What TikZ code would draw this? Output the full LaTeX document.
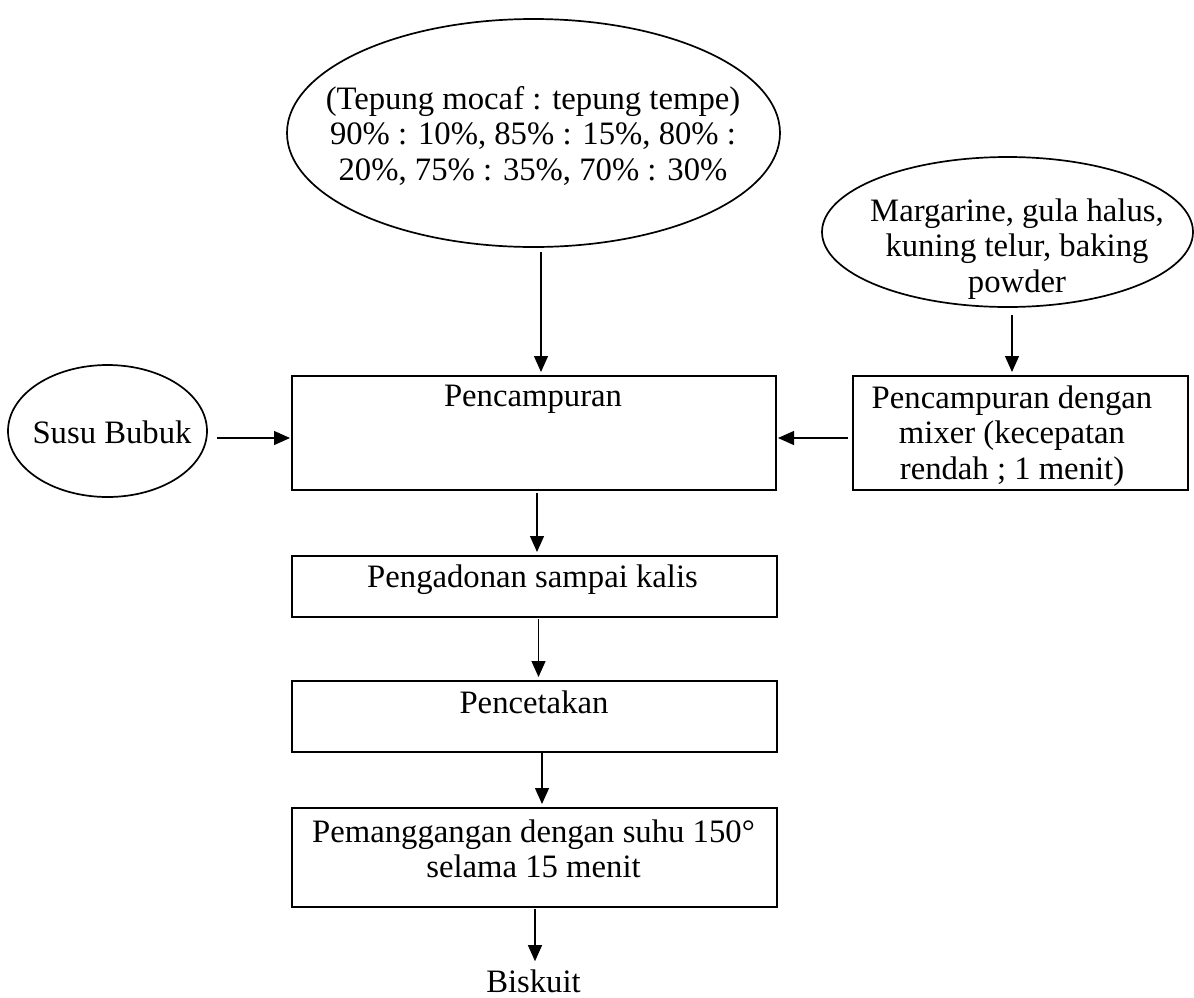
\documentclass[tikz,border=0pt]{standalone}
\usepackage{fontspec}
\setmainfont{Liberation Serif}
\usetikzlibrary{shapes.geometric,arrows.meta}
\tikzset{
  ell/.style={draw, ellipse, line width=1.7pt, inner sep=0pt, outer sep=0pt},
  box/.style={draw, rectangle, line width=1.4pt, inner sep=0pt, outer sep=0pt, anchor=north west},
  txt/.style={anchor=north, inner sep=0pt, align=center, font=\fontsize{32.7}{35.5}\selectfont},
  arr/.style={line width=1.3pt, -{Triangle[length=16pt,width=14pt]}, shorten >=4pt},
  harr/.style={line width=1.3pt, -{Triangle[length=16pt,width=14pt]}, shorten >=2pt}
}
\begin{document}
\begin{tikzpicture}[x=1pt,y=-1pt]
\useasboundingbox (0,0) rectangle (1194,997);
% ellipses
\node[ell, minimum width=493pt, minimum height=228pt] (flour) at (533.5,133) {};
\node[txt] (flourt) at (533,84.15) {\strut (Tepung mocaf : tepung tempe)\\90\% : 10\%, 85\% : 15\%, 80\% :\\20\%, 75\% : 35\%, 70\% : 30\%};
\node[ell, minimum width=371pt, minimum height=150pt] (marg) at (1007.5,232) {};
\node[txt] (margt) at (1017,196.15) {\strut Margarine, gula halus,\\kuning telur, baking\\powder};
\node[ell, minimum width=199pt, minimum height=132pt] (susu) at (107.5,431) {};
\node[txt] (susut) at (112,418.15) {\strut Susu Bubuk};
% boxes
\node[box, minimum width=484pt, minimum height=114pt] (mix) at (292,376) {};
\node[txt] (mixt) at (533,381.15) {\strut Pencampuran};
\node[box, minimum width=335pt, minimum height=114pt] (mixer) at (853,376) {};
\node[txt] (mixert) at (1012,383.15) {\strut Pencampuran dengan\\mixer (kecepatan\\rendah ; 1 menit)};
\node[box, minimum width=485pt, minimum height=61pt] (peng) at (292,556) {};
\node[txt] (pengt) at (532.5,562.15) {\strut Pengadonan sampai kalis};
\node[box, minimum width=485pt, minimum height=71pt] (cetak) at (292,681) {};
\node[txt] (cetakt) at (534,688.15) {\strut Pencetakan};
\node[box, minimum width=485pt, minimum height=99pt] (bake) at (292,808) {};
\node[txt] (baket) at (533.5,817.15) {\strut Pemanggangan dengan suhu 150°\\selama 15 menit};
\node[txt] (bisk) at (533.5,967.15) {\strut Biskuit};
% connectors
\coordinate (a1) at ([xshift=7.5pt,yshift=-5pt]flour.south);
\draw[arr] (a1) -- (a1 |- mix.north);
\coordinate (a2) at ([xshift=4.5pt,yshift=-8pt]marg.south);
\draw[arr] (a2) -- (a2 |- mixer.north);
\coordinate (a3) at ([xshift=10pt,yshift=-7pt]susu.east);
\draw[harr] (a3) -- (a3 -| mix.west);
\coordinate (a4) at ([xshift=-5pt]mixer.west |- a3);
\draw[harr] (a4) -- (a4 -| mix.east);
\coordinate (a5) at ([xshift=3pt,yshift=-3pt]mix.south);
\draw[arr] (a5) -- (a5 |- peng.north);
\coordinate (a6) at ([xshift=4pt,yshift=-2pt]peng.south);
\draw[arr] (a6) -- (a6 |- cetak.north);
\coordinate (a7) at ([xshift=7.5pt,yshift=-1pt]cetak.south);
\draw[arr] (a7) -- (a7 |- bake.north);
\coordinate (a8) at ([xshift=0.5pt,yshift=-2pt]bake.south);
\draw[arr, shorten >=6pt] (a8) -- (a8 |- bisk.north);
\end{tikzpicture}
\end{document}
